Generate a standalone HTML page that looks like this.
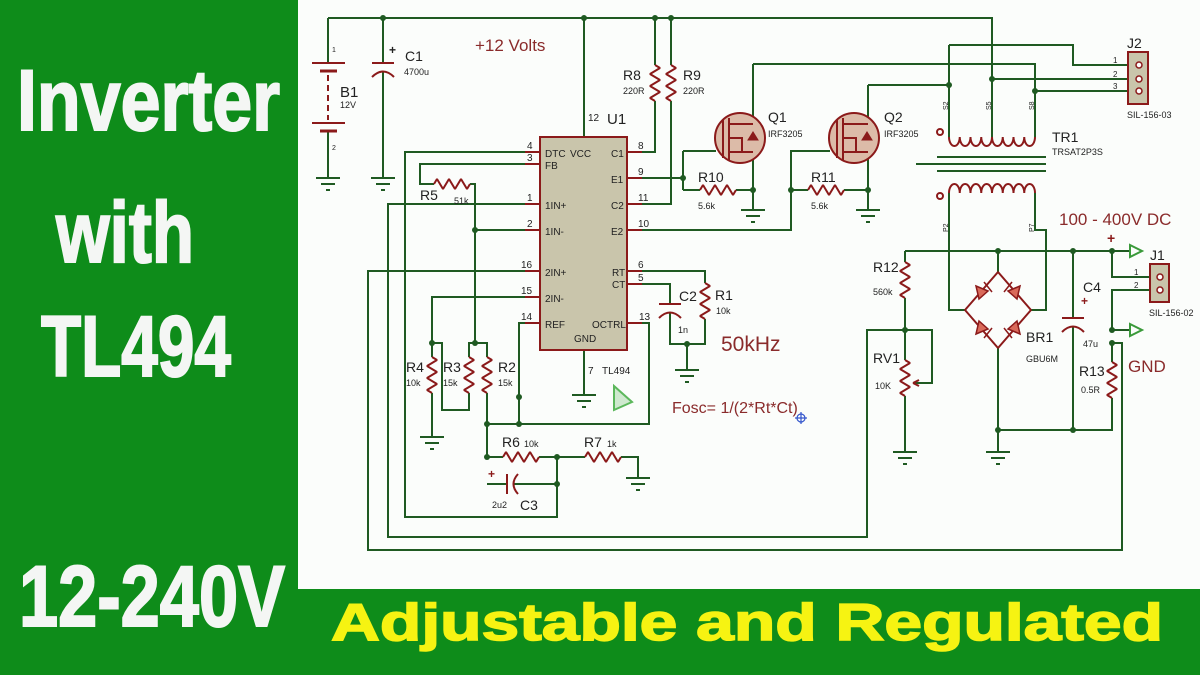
<!DOCTYPE html>
<html><head><meta charset="utf-8"><style>
html,body{margin:0;padding:0;width:1200px;height:675px;overflow:hidden;background:#0e8c1a}
svg{display:block}
</style></head><body>
<svg width="1200" height="675" viewBox="0 0 1200 675" xmlns="http://www.w3.org/2000/svg" font-family="Liberation Sans, sans-serif">
<rect x="0" y="0" width="1200" height="675" fill="#0e8c1a"/>
<rect x="298" y="0" width="902" height="589" fill="#fbfdfb"/>

<!-- left titles -->
<g fill="#f4f6f4" stroke="#f4f6f4" stroke-width="2" font-weight="bold" font-family="Liberation Sans, sans-serif">
<text x="17" y="130" font-size="86" textLength="263" lengthAdjust="spacingAndGlyphs">Inverter</text>
<text x="56" y="262" font-size="86" textLength="138" lengthAdjust="spacingAndGlyphs">with</text>
<text x="41" y="376" font-size="86" textLength="190" lengthAdjust="spacingAndGlyphs">TL494</text>
<text x="19" y="626" font-size="86" textLength="266" lengthAdjust="spacingAndGlyphs">12-240V</text>
</g>
<text x="331" y="640" font-size="52" font-weight="bold" fill="#f6f312" stroke="#f6f312" stroke-width="1.5" textLength="832" lengthAdjust="spacingAndGlyphs">Adjustable and Regulated</text>

<!-- wires -->
<g fill="none" stroke="#1f5a22" stroke-width="2">
<path d="M328,18 H992 V137"/>
<path d="M328,18 V63 M383,18 V63 M584,18 V137"/>
<path d="M655,18 V65 M655,101 V152 H642 M671,18 V65 M671,101 V204 H642"/>
<path d="M328,131 V178 M383,72 V178"/>
<path d="M642,178 H683 M683,151 V190 M683,151 H716 M683,190 H700 M736,190 H753 M753,64 V210"/>
<path d="M753,64 H1035 V137"/>
<path d="M642,230 H791 V151 H830 M791,190 H808 M844,190 H868 M868,85 V210 M868,85 H949"/>
<path d="M949,45 V137 M949,45 H1073 V65 H1130 M992,79 H1130 M1035,91 H1130"/>
<path d="M949,193 V310 H965 M1035,193 V230 H1046 V310 H1031"/>
<path d="M998,251 V272 M998,348 V452 M905,251 H1130 M905,251 V262 M905,298 V360 M905,396 V452"/>
<path d="M905,330 H932 V383 H913 M905,330 H867 V537 H388 V204 H525"/>
<path d="M1073,251 V318 M1073,327 V430 M998,430 H1112 V398 M1112,362 V343 H1122 V550 H368 V271 H525"/>
<path d="M1112,251 V277 H1150 M1150,290 H1112 V330 H1130"/>
<path d="M525,152 H405 V517 H557 V457 M525,164 H420 V184 H434 M470,184 H475 V343 M525,230 H475"/>
<path d="M525,297 H432 V357 M432,393 V437 M432,343 H442 V410 H469 V393 M469,357 V343 H487 V357 M487,393 V457 H503 M539,457 H585 M621,457 H638 V478"/>
<path d="M487,484 H507 M513,484 H557 V457 M525,323 H519 V424 M487,424 H649 V323 H642"/>
<path d="M584,350 V395 M642,284 H670 V304 M670,313 V344 H705 V319 M705,283 V271 H642 M687,344 V370"/>
<!-- grounds -->
<path d="M316,178 H340 M321,184 H335 M326,190 H330"/>
<path d="M371,178 H395 M376,184 H390 M381,190 H385"/>
<path d="M572,395 H596 M577,401 H591 M582,407 H586"/>
<path d="M420,437 H444 M425,443 H439 M430,449 H434"/>
<path d="M675,370 H699 M680,376 H694 M685,382 H689"/>
<path d="M741,210 H765 M746,216 H760 M751,222 H755"/>
<path d="M856,210 H880 M861,216 H875 M866,222 H870"/>
<path d="M893,452 H917 M898,458 H912 M903,464 H907"/>
<path d="M986,452 H1010 M991,458 H1005 M996,464 H1000"/>
<path d="M626,478 H650 M631,484 H645 M636,490 H640"/>
</g>
<!-- arrows -->
<g fill="none" stroke="#3a9a3a" stroke-width="2">
<path d="M1130,245 L1142,251 L1130,257 Z"/>
<path d="M1130,324 L1142,330 L1130,336 Z"/>
<path d="M614,386 L614,410 L632,402 Z" stroke="#5cb85c" fill="#cfe9cf"/>
</g>
<!-- junctions -->
<g fill="#1f5a22">
<circle cx="383" cy="18" r="3"/><circle cx="584" cy="18" r="3"/><circle cx="655" cy="18" r="3"/><circle cx="671" cy="18" r="3"/>
<circle cx="683" cy="178" r="3"/><circle cx="753" cy="190" r="3"/><circle cx="791" cy="190" r="3"/><circle cx="868" cy="190" r="3"/>
<circle cx="949" cy="85" r="3"/><circle cx="992" cy="79" r="3"/><circle cx="1035" cy="91" r="3"/>
<circle cx="998" cy="251" r="3"/><circle cx="1073" cy="251" r="3"/><circle cx="1112" cy="251" r="3"/>
<circle cx="905" cy="330" r="3"/><circle cx="1112" cy="330" r="3"/><circle cx="1112" cy="343" r="3"/>
<circle cx="998" cy="430" r="3"/><circle cx="1073" cy="430" r="3"/>
<circle cx="475" cy="230" r="3"/><circle cx="475" cy="343" r="3"/><circle cx="432" cy="343" r="3"/>
<circle cx="487" cy="424" r="3"/><circle cx="519" cy="424" r="3"/><circle cx="519" cy="397" r="3"/>
<circle cx="487" cy="457" r="3"/><circle cx="557" cy="457" r="3"/><circle cx="557" cy="484" r="3"/><circle cx="687" cy="344" r="3"/>
</g>

<!-- U1 -->
<rect x="540" y="137" width="87" height="213" fill="#c9c5ab" stroke="#8b1a1a" stroke-width="2"/>
<g stroke="#8b1a1a" stroke-width="2">
<path d="M525,152 H540 M525,164 H540 M525,204 H540 M525,230 H540 M525,271 H540 M525,297 H540 M525,323 H540"/>
<path d="M627,152 H642 M627,178 H642 M627,204 H642 M627,230 H642 M627,271 H642 M627,284 H642 M627,323 H642"/>
</g>
<g font-size="10" fill="#222">
<text x="545" y="157">DTC</text><text x="570" y="157">VCC</text><text x="611" y="157">C1</text>
<text x="545" y="169">FB</text><text x="611" y="183">E1</text>
<text x="545" y="209">1IN+</text><text x="611" y="209">C2</text>
<text x="545" y="235">1IN-</text><text x="611" y="235">E2</text>
<text x="545" y="276">2IN+</text><text x="612" y="276">RT</text><text x="612" y="288">CT</text>
<text x="545" y="302">2IN-</text><text x="545" y="328">REF</text><text x="592" y="328">OCTRL</text>
<text x="574" y="342">GND</text>
<text x="527" y="149">4</text><text x="527" y="161">3</text><text x="527" y="201">1</text><text x="527" y="227">2</text>
<text x="521" y="268">16</text><text x="521" y="294">15</text><text x="521" y="320">14</text>
<text x="638" y="149">8</text><text x="638" y="175">9</text><text x="638" y="201">11</text><text x="638" y="227">10</text>
<text x="638" y="268">6</text><text x="638" y="281">5</text><text x="639" y="320">13</text>
<text x="588" y="121">12</text><text x="588" y="374">7</text><text x="602" y="374">TL494</text>
</g>
<text x="607" y="124" font-size="15" fill="#222">U1</text>

<!-- resistors -->
<g fill="none" stroke="#8b1a1a" stroke-width="2" stroke-linejoin="bevel">
<polyline points="655,65 660,68 650,74 660,80 650,86 660,92 650,98 655,101"/>
<polyline points="671,65 676,68 666,74 676,80 666,86 676,92 666,98 671,101"/>
<polyline points="905,262 910,265 900,271 910,277 900,283 910,289 900,295 905,298"/>
<polyline points="432,357 437,360 427,366 437,372 427,378 437,384 427,390 432,393"/>
<polyline points="469,357 474,360 464,366 474,372 464,378 474,384 464,390 469,393"/>
<polyline points="487,357 492,360 482,366 492,372 482,378 492,384 482,390 487,393"/>
<polyline points="705,283 710,286 700,292 710,298 700,304 710,310 700,316 705,319"/>
<polyline points="1112,362 1117,365 1107,371 1117,377 1107,383 1117,389 1107,395 1112,398"/>
<polyline points="905,360 910,363 900,369 910,375 900,381 910,387 900,393 905,396"/>
<polyline points="434,184 437,179 443,189 449,179 455,189 461,179 467,189 470,184"/>
<polyline points="700,190 703,185 709,195 715,185 721,195 727,185 733,195 736,190"/>
<polyline points="808,190 811,185 817,195 823,185 829,195 835,185 841,195 844,190"/>
<polyline points="503,457 506,452 512,462 518,452 524,462 530,452 536,462 539,457"/>
<polyline points="585,457 588,452 594,462 600,452 606,462 612,452 618,462 621,457"/>
<!-- capacitors -->
<path d="M372,63 H394 M372,77 Q383,66 394,77"/>
<path d="M659,304 H681 M659,318 Q670,307 681,318"/>
<path d="M1062,318 H1084 M1062,332 Q1073,321 1084,332"/>
<path d="M507,474 V494 M518,474 Q509,484 518,494"/>
<!-- battery -->
<path d="M312,63 H345 M312,123 H345"/>
<path d="M320,71 H337 M320,131 H337" stroke-width="3"/>
<path d="M328,75 V120" stroke-dasharray="6 4"/>
<!-- transformer coils -->
<path d="M949,137 a5.375,9 0 0 0 10.75,0 a5.375,9 0 0 0 10.75,0 a5.375,9 0 0 0 10.75,0 a5.375,9 0 0 0 10.75,0 a5.375,9 0 0 0 10.75,0 a5.375,9 0 0 0 10.75,0 a5.375,9 0 0 0 10.75,0 a5.375,9 0 0 0 10.75,0"/>
<path d="M949,193 a5.375,9 0 0 1 10.75,0 a5.375,9 0 0 1 10.75,0 a5.375,9 0 0 1 10.75,0 a5.375,9 0 0 1 10.75,0 a5.375,9 0 0 1 10.75,0 a5.375,9 0 0 1 10.75,0 a5.375,9 0 0 1 10.75,0 a5.375,9 0 0 1 10.75,0"/>
<circle cx="940" cy="132" r="3"/><circle cx="940" cy="196" r="3"/>
<!-- RV1 wiper -->
<path d="M913,383 L919,380 M913,383 L919,386"/>
<!-- bridge -->
<path d="M998,272 L965,310 L998,348 L1031,310 Z"/>
</g>
<!-- core -->
<g stroke="#1f5a22" stroke-width="2">
<path d="M937,157 H1046 M916,164 H1046 M937,171 H1046"/>
</g>
<!-- diodes -->
<g fill="#d96a5a" stroke="#8b1a1a" stroke-width="1.5">
<polygon points="976,286 988,291 979,299"/><path d="M984,282 L992,292"/>
<polygon points="1020,286 1008,291 1017,299"/><path d="M1012,282 L1004,292"/>
<polygon points="976,334 988,329 979,321"/><path d="M984,338 L992,328"/>
<polygon points="1020,334 1008,329 1017,321"/><path d="M1012,338 L1004,328"/>
</g>
<!-- MOSFETs -->
<g stroke="#8b1a1a" stroke-width="2" fill="none">
<circle cx="740" cy="138" r="25" fill="#dcbba8"/>
<circle cx="854" cy="138" r="25" fill="#dcbba8"/>
<path d="M723,120 V158 M729,118 V160 M729,124 H753 M729,152 H753 M729,138 H742 V152"/>
<path d="M837,120 V158 M843,118 V160 M843,124 H868 M843,152 H868 M843,138 H856 V152"/>
<path d="M748,140 L758,140 L753,132 Z M862,140 L872,140 L867,132 Z" fill="#8b1a1a" stroke-width="1"/>
</g>
<!-- connectors -->
<g fill="#c9c5ab" stroke="#8b1a1a" stroke-width="2">
<rect x="1128" y="52" width="20" height="52"/>
<rect x="1150" y="264" width="19" height="38"/>
</g>
<g fill="#fff" stroke="#8b1a1a" stroke-width="1.5">
<circle cx="1139" cy="65" r="3"/><circle cx="1139" cy="79" r="3"/><circle cx="1139" cy="91" r="3"/>
<circle cx="1160" cy="277" r="3"/><circle cx="1160" cy="290" r="3"/>
</g>
<!-- crosshair -->
<g stroke="#3355cc" stroke-width="1.2" fill="none"><circle cx="801" cy="418" r="4"/><path d="M795,418 H807 M801,412 V424"/></g>

<!-- labels -->
<g fill="#222">
<text x="340" y="97" font-size="15">B1</text><text x="340" y="108" font-size="9">12V</text>
<text x="332" y="52" font-size="7">1</text><text x="332" y="150" font-size="7">2</text>
<text x="405" y="61" font-size="14">C1</text><text x="404" y="75" font-size="9">4700u</text>
<text x="389" y="54" font-size="12" font-weight="bold">+</text>
<text x="623" y="80" font-size="14">R8</text><text x="623" y="94" font-size="9">220R</text>
<text x="683" y="80" font-size="14">R9</text><text x="683" y="94" font-size="9">220R</text>
<text x="768" y="122" font-size="14">Q1</text><text x="768" y="137" font-size="9">IRF3205</text>
<text x="884" y="122" font-size="14">Q2</text><text x="884" y="137" font-size="9">IRF3205</text>
<text x="698" y="182" font-size="14">R10</text><text x="698" y="209" font-size="9">5.6k</text>
<text x="811" y="182" font-size="14">R11</text><text x="811" y="209" font-size="9">5.6k</text>
<text x="1052" y="142" font-size="14">TR1</text><text x="1052" y="155" font-size="9">TRSAT2P3S</text>
<text x="1127" y="48" font-size="14">J2</text><text x="1127" y="118" font-size="9">SIL-156-03</text>
<text x="1113" y="63" font-size="8">1</text><text x="1113" y="77" font-size="8">2</text><text x="1113" y="89" font-size="8">3</text>
<text x="1150" y="260" font-size="14">J1</text><text x="1149" y="316" font-size="9">SIL-156-02</text>
<text x="1134" y="275" font-size="8">1</text><text x="1134" y="288" font-size="8">2</text>
<text x="873" y="272" font-size="14">R12</text><text x="873" y="295" font-size="9">560k</text>
<text x="873" y="363" font-size="14">RV1</text><text x="875" y="389" font-size="9">10K</text>
<text x="1026" y="342" font-size="14">BR1</text><text x="1026" y="362" font-size="9">GBU6M</text>
<text x="1083" y="292" font-size="14">C4</text><text x="1083" y="347" font-size="9">47u</text>
<text x="1079" y="376" font-size="14">R13</text><text x="1081" y="393" font-size="9">0.5R</text>
<text x="420" y="200" font-size="14">R5</text><text x="454" y="204" font-size="9">51k</text>
<text x="406" y="372" font-size="14">R4</text><text x="406" y="386" font-size="9">10k</text>
<text x="443" y="372" font-size="14">R3</text><text x="443" y="386" font-size="9">15k</text>
<text x="498" y="372" font-size="14">R2</text><text x="498" y="386" font-size="9">15k</text>
<text x="502" y="447" font-size="14">R6</text><text x="524" y="447" font-size="9">10k</text>
<text x="584" y="447" font-size="14">R7</text><text x="607" y="447" font-size="9">1k</text>
<text x="492" y="508" font-size="9">2u2</text><text x="520" y="510" font-size="14">C3</text>
<text x="679" y="301" font-size="14">C2</text><text x="678" y="333" font-size="9">1n</text>
<text x="715" y="300" font-size="14">R1</text><text x="716" y="314" font-size="9">10k</text>
<g font-size="7" transform="rotate(-90)"><text x="-110" y="948">S2</text><text x="-110" y="991">S5</text><text x="-110" y="1034">S8</text>
<text x="-232" y="948">P2</text><text x="-232" y="1034">P7</text></g>
</g>
<g fill="#8b1a1a" font-weight="bold">
<text x="488" y="478" font-size="12">+</text><text x="1081" y="305" font-size="12">+</text><text x="1107" y="243" font-size="14">+</text>
</g>
<g fill="#8a2b2b">
<text x="475" y="51" font-size="17">+12 Volts</text>
<text x="721" y="351" font-size="21">50kHz</text>
<text x="672" y="413" font-size="16">Fosc= 1/(2*Rt*Ct)</text>
<text x="1059" y="225" font-size="17">100 - 400V DC</text>
<text x="1128" y="372" font-size="17">GND</text>
</g>
</svg>
</body></html>
